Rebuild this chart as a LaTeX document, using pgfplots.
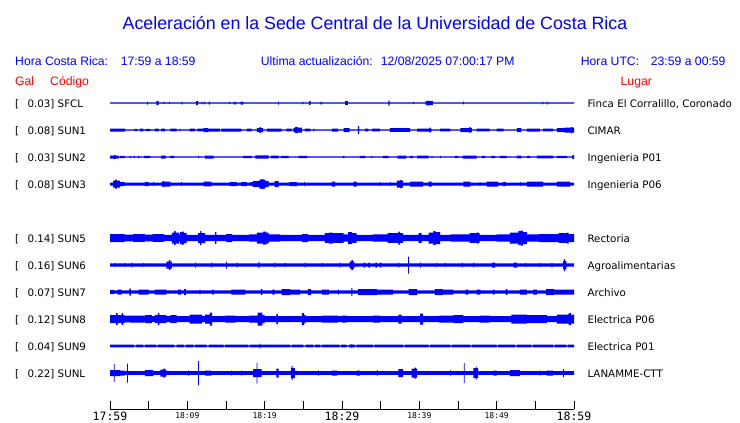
\documentclass[border=0pt]{standalone}
\usepackage{pgfplots}
\pgfplotsset{compat=1.18}
\usepackage{pgfplotstable}
\usepackage{fontspec}
\setmainfont{Liberation Sans}
\newfontfamily\dv{DejaVu Sans}
\newfontfamily\dvm{DejaVu Sans Mono}

% t = minutes after 17:59, h = half amplitude of the trace envelope (px)
\pgfplotstableread{
t h
0 0.6
4.8 1.5
4.9 0.6
6.0 2.0
6.3 0.6
6.9 1.2
7.0 0.6
7.65 1.2
7.75 0.6
9.25 1.5
9.35 0.6
11.15 2.0
11.4 0.6
11.85 1.3
11.95 0.6
12.15 1.3
12.25 0.6
12.8 1.5
12.9 0.6
15.4 1.2
15.5 0.6
16.0 1.5
16.1 0.6
16.25 1.5
16.35 0.6
16.9 1.5
17.2 0.6
21.75 1.5
21.85 0.6
24.9 1.3
25.0 0.6
25.75 1.8
25.95 0.6
27.25 1.5
27.35 0.6
30.4 1.8
30.75 0.6
36.0 2.5
36.15 0.6
39.2 1.2
39.3 0.6
40.8 2.0
41.1 2.5
41.25 2.0
41.75 0.6
45.65 1.3
45.75 0.6
55.9 1.3
56.0 0.6
56.5 1.5
56.6 0.6
60 0.6
}\sfcl

\pgfplotstableread{
t h
0 1.5
1.95 0.7
3.2 1.2
3.5 0.7
3.9 1.3
4.3 0.7
4.6 1.2
5.2 0.7
5.8 1.3
6.3 0.7
6.6 1.3
7.1 0.7
7.8 1.3
8.6 0.7
9.0 1.3
9.1 0.7
10.3 1.3
11.0 0.7
11.3 1.3
12.1 2.0
12.7 1.5
14.2 0.7
14.4 1.5
17.0 0.7
17.7 1.3
18.3 0.7
19.0 2.0
19.35 3.0
19.5 2.0
19.8 0.7
20.3 1.5
22.2 0.7
22.8 1.3
23.5 0.7
23.7 2.0
23.9 3.0
24.3 2.5
24.8 0.7
25.2 1.3
25.9 0.7
26.3 1.3
26.4 0.7
28.7 1.5
29.5 0.7
30.2 2.0
31.0 0.7
32.05 4.0
32.2 0.7
33.0 1.3
33.4 0.7
33.9 1.3
34.9 0.7
36.2 1.8
38.8 0.7
39.7 1.5
41.3 2.5
41.45 1.5
41.6 0.7
42.7 1.3
44.0 0.7
45.3 2.0
46.4 2.7
46.7 2.0
46.8 0.7
47.4 1.3
49.1 0.7
50.0 1.3
50.9 0.7
52.6 2.0
53.2 0.7
53.9 1.5
55.6 0.7
56.0 1.3
57.3 0.7
57.8 2.0
58.8 2.5
59.6 3.0
59.8 2.5
60 2.5
}\sunA

\pgfplotstableread{
t h
0 1.5
0.5 2.0
0.7 1.5
1.1 0.7
1.3 1.2
1.9 0.7
2.6 1.2
2.7 0.7
3.1 1.2
3.2 0.7
3.65 1.2
3.75 0.7
4.4 1.2
5.2 0.7
6.6 1.5
7.2 0.7
7.8 1.2
8.3 0.7
11.4 1.2
11.5 0.7
12.3 1.5
13.4 0.7
17.2 1.2
18.3 0.7
18.8 1.7
20.5 0.7
20.8 1.3
21.8 0.7
22.1 1.2
23.1 0.7
24.4 1.2
25.5 0.7
30.1 1.2
30.3 0.7
32.3 1.2
33.0 0.7
33.8 1.2
33.9 0.7
35.3 1.2
36.0 0.7
37.2 1.5
38.3 0.7
38.8 1.2
39.2 0.7
39.7 1.3
41.2 0.7
41.6 1.2
41.7 0.7
42.7 1.2
42.8 0.7
44.6 1.2
45.0 0.7
45.6 1.5
47.4 0.7
48.1 1.2
48.5 0.7
49.3 1.2
49.8 0.7
50.4 1.2
51.3 0.7
52.6 1.3
53.2 0.7
53.9 1.2
54.3 0.7
55.2 1.3
57.3 0.7
57.8 1.2
59.1 0.7
59.8 2.0
60 2.0
}\sunB

\pgfplotstableread{
t h
0 1.5
0.4 3.5
0.65 4.5
0.9 3.5
1.3 2.0
1.9 1.5
4.5 2.0
5.0 1.5
5.6 2.0
5.7 1.5
6.7 2.5
6.85 3.0
7.0 2.5
7.8 1.5
9.2 2.0
9.3 1.5
12.1 2.3
13.1 1.5
15.5 2.0
16.4 1.5
17.0 2.0
17.7 1.5
18.2 2.0
18.5 3.0
19.3 4.5
19.6 5.0
19.8 4.5
20.1 3.0
20.5 1.5
21.3 3.0
21.8 1.5
23.2 2.0
24.2 1.5
25.1 2.0
25.2 1.5
28.7 2.5
29.1 1.5
31.5 2.5
31.9 1.5
34.9 2.0
35.0 1.5
36.2 2.0
36.3 1.5
37.1 3.5
37.5 4.0
37.7 3.5
37.9 1.5
38.8 2.5
40.5 1.5
41.2 2.5
41.6 1.5
45.7 2.5
46.6 1.5
47.8 2.0
47.9 1.5
48.7 2.5
50.2 1.5
50.8 2.0
51.2 1.5
53.0 2.0
53.1 1.5
53.9 2.5
56.0 1.5
57.8 2.5
59.5 1.5
60 1.5
}\sunC

\pgfplotstableread{
t h
0 4.0
1.9 3.3
3.0 3.8
4.5 3.3
5.5 3.8
7.0 3.2
8.0 5.5
8.3 7.0
8.5 5.5
8.9 3.6
9.05 6.0
9.3 6.5
9.6 5.0
9.9 3.2
11.4 5.0
11.65 7.0
11.8 5.0
12.3 3.2
13.6 6.0
13.75 3.2
15.0 4.0
15.8 3.2
18.0 3.6
19.0 5.5
19.8 6.5
20.2 5.5
20.5 3.6
22.0 3.2
24.8 4.0
25.6 3.2
27.8 4.8
28.3 5.5
28.8 4.8
30.2 3.6
30.8 6.0
31.3 4.8
31.9 3.2
34.0 3.6
35.9 4.8
37.3 6.5
37.5 4.8
37.9 3.2
39.9 5.0
40.3 3.2
41.2 5.5
41.8 7.0
42.1 6.0
42.7 3.2
44.0 3.6
46.5 4.8
47.5 6.0
47.6 4.8
47.8 3.2
50.0 3.6
51.7 5.5
52.8 7.0
53.2 7.5
53.4 6.0
53.9 3.6
55.5 4.0
58.0 4.8
59.1 5.5
59.3 4.0
60 4.0
}\sunE

\pgfplotstableread{
t h
0 1.6
0.6 2.2
0.7 1.6
1.9 2.2
2.0 1.6
2.8 2.5
2.9 1.6
4.3 2.2
4.4 1.6
7.3 3.5
7.6 5.0
7.8 3.5
8.0 1.6
11.0 2.5
11.1 1.6
13.1 2.5
13.2 1.6
15.0 3.5
15.1 1.6
16.4 2.5
16.5 1.6
19.2 3.0
19.3 1.6
21.3 2.5
21.4 1.6
22.6 2.2
22.7 1.6
25.2 2.5
25.3 1.6
27.4 2.2
27.5 1.6
29.7 2.5
29.8 1.6
31.0 3.5
31.2 5.0
31.4 3.5
31.6 1.6
32.8 2.5
33.0 1.6
33.4 2.5
33.6 1.6
34.3 2.5
34.5 1.6
34.9 2.5
35.1 1.6
37.3 2.5
37.4 1.6
38.55 8.5
38.65 1.6
40.1 2.5
40.2 1.6
42.2 2.2
42.3 1.6
43.3 2.2
43.4 1.6
45.5 2.5
45.6 1.6
47.0 2.5
47.1 1.6
49.4 2.5
49.8 1.6
52.2 2.5
52.6 1.6
53.7 2.2
53.8 1.6
55.6 2.2
55.7 1.6
57.1 2.5
57.2 1.6
58.6 4.0
58.7 6.0
58.85 4.0
59.0 1.6
60 1.6
}\sunF

\pgfplotstableread{
t h
0 2.0
0.5 1.6
1.0 2.5
1.5 1.6
2.5 3.5
2.7 1.6
3.7 2.5
5.0 1.6
5.8 2.5
7.3 1.6
8.8 2.5
9.2 1.6
9.6 3.0
9.8 1.6
11.6 2.5
11.7 1.6
13.2 2.5
13.4 1.6
15.7 2.5
17.5 1.6
19.5 3.0
19.7 1.6
21.0 2.5
21.3 1.6
22.2 3.0
23.3 2.5
24.6 1.6
25.6 3.0
26.0 1.6
27.4 2.5
28.3 1.6
29.5 2.5
29.6 1.6
31.2 4.0
31.35 1.6
32.1 3.0
34.5 2.5
36.6 1.6
38.6 3.0
39.7 1.6
42.0 3.0
43.0 2.5
44.4 1.6
46.0 2.5
46.3 1.6
47.4 2.5
47.9 1.6
49.5 2.5
49.7 1.6
51.2 3.0
51.4 1.6
53.0 2.5
53.9 1.6
54.7 2.5
55.2 1.6
56.4 3.0
57.4 2.5
59.5 2.5
60 2.5
}\sunG

\pgfplotstableread{
t h
0 4.0
0.8 6.0
1.0 4.0
1.5 6.0
1.7 4.0
1.9 3.3
2.6 3.5
4.4 3.0
4.5 4.0
5.4 3.0
5.8 4.0
6.2 6.0
6.4 4.0
7.3 3.0
7.8 4.0
8.6 3.0
10.3 4.5
11.9 3.0
12.3 4.5
12.9 6.5
13.2 3.0
14.9 3.5
16.2 3.0
18.0 3.5
19.1 6.5
19.7 4.0
20.0 3.0
21.5 5.0
21.7 3.0
24.8 6.0
25.1 4.0
25.3 3.0
27.4 3.5
29.5 3.0
30.0 3.5
30.6 3.0
34.0 3.5
34.9 3.0
37.3 4.5
37.7 3.0
40.1 5.5
40.5 3.0
42.6 3.5
44.4 4.0
45.7 3.0
47.8 3.5
49.1 3.0
51.9 4.5
53.9 4.0
56.5 3.0
57.8 4.5
59.3 6.0
59.6 4.5
60 4.5
}\sunH

\pgfplotstableread{
t h
0 1.3
3.1 0.6
3.35 1.3
4.3 0.6
4.5 1.3
6.0 0.6
6.2 1.3
8.3 0.6
8.6 1.3
9.6 0.6
9.8 1.3
10.8 0.6
11.0 1.3
12.5 0.6
12.8 1.3
14.7 0.6
14.9 1.3
17.9 0.6
18.1 1.3
19.35 2.5
19.45 1.3
23.3 0.6
23.5 1.3
25.0 0.6
25.3 1.3
26.3 0.6
26.5 1.3
27.2 0.6
27.4 1.3
29.7 0.6
29.9 1.3
30.6 0.6
30.9 1.3
31.2 2.0
31.3 1.3
31.7 0.6
31.9 1.3
34.0 0.6
34.2 1.3
37.9 0.6
38.1 1.3
41.2 0.6
41.4 1.3
44.0 0.6
44.2 1.3
46.6 0.6
46.8 1.3
50.0 0.6
50.2 1.3
52.4 0.6
52.6 1.3
54.5 0.6
54.7 1.3
57.3 0.6
57.5 1.3
59.0 0.6
59.2 1.3
60 1.3
}\sunI

\pgfplotstableread{
t h
0 3.0
0.5 8.8
0.6 3.0
1.3 2.5
1.9 1.8
2.2 9.5
2.3 1.8
4.5 3.0
5.6 1.8
6.5 3.5
6.9 4.5
7.1 3.5
7.3 1.8
10.1 2.5
10.2 1.8
11.4 12.0
11.5 1.8
12.3 2.5
13.1 1.8
15.7 2.5
15.8 1.8
17.0 2.5
17.1 1.8
18.5 4.0
18.95 10.5
19.05 4.0
19.6 1.8
21.5 4.5
21.8 1.8
23.4 5.0
23.5 7.0
23.6 5.0
23.9 1.8
26.9 2.5
27.0 1.8
28.7 2.5
29.4 1.8
31.9 2.5
32.3 1.8
34.5 3.0
34.6 1.8
37.3 4.0
37.9 1.8
39.0 4.5
39.4 5.5
39.6 4.5
39.7 1.8
44.0 3.0
44.1 1.8
45.75 10.0
45.85 1.8
47.0 5.0
47.3 6.5
47.4 5.0
47.6 1.8
49.6 2.5
50.0 1.8
51.7 3.0
53.0 1.8
55.6 2.5
55.7 1.8
56.5 2.5
57.3 1.8
58.55 4.0
58.7 1.8
60 1.8
}\sunL

% upper and lower halves of each trace envelope, each closed to the trace's centre line
\newcommand{\seis}[2]{%
  \addplot[fill=blue, draw=none, const plot, forget plot] table[x=t, y expr={#2+\thisrow{h}}] {#1} -- (axis cs:60,#2) -- (axis cs:0,#2) -- cycle;
  \addplot[fill=blue, draw=none, const plot, forget plot] table[x=t, y expr={#2-\thisrow{h}}] {#1} -- (axis cs:60,#2) -- (axis cs:0,#2) -- cycle;
}

\begin{document}
\begin{tikzpicture}
\path[use as bounding box] (0pt,0pt) rectangle (740pt,-423pt);
\begin{axis}[
  at={(110pt,-409pt)}, anchor=south west,
  scale only axis, width=464pt, height=319pt,
  xmin=0, xmax=60, ymin=-409, ymax=-90,
  axis x line*=bottom, axis y line=none,
  axis line style={black, line width=0.8pt},
  xtick={0,5,...,60},
  xticklabels={{\fontsize{11.5}{12}\dvm 17:59},,{\fontsize{8}{9}\dvm 18:09},,{\fontsize{8}{9}\dvm 18:19},,{\fontsize{11.5}{12}\dvm 18:29},,{\fontsize{8}{9}\dvm 18:39},,{\fontsize{8}{9}\dvm 18:49},,{\fontsize{11.5}{12}\dvm 18:59}},
  tick align=inside, major tick length=8pt,
  tick style={black, line width=0.8pt},
  xticklabel style={anchor=north, inner sep=0pt},
  xticklabel shift=3pt,
]
\seis{\sfcl}{-103}
\seis{\sunA}{-130}
\seis{\sunB}{-157}
\seis{\sunC}{-184}
\seis{\sunE}{-238}
\seis{\sunF}{-265}
\seis{\sunG}{-292}
\seis{\sunH}{-319}
\seis{\sunI}{-346}
\seis{\sunL}{-373}
\end{axis}

% header
\node[anchor=base, inner sep=0pt, text=blue, font=\fontsize{17.8}{20}\selectfont] at (375pt,-29pt) {Aceleración en la Sede Central de la Universidad de Costa Rica};
\begin{scope}[every node/.style={anchor=base west, inner sep=0pt, font=\fontsize{12.2}{14}\selectfont}]
\node[text=blue] at (15pt,-65pt) {Hora Costa Rica:};
\node[text=blue] at (120.7pt,-65pt) {17:59 a 18:59};
\node[text=blue] at (260.7pt,-65pt) {Ultima actualización:};
\node[text=blue] at (380.7pt,-65pt) {12/08/2025 07:00:17 PM};
\node[text=blue] at (580.7pt,-65pt) {Hora UTC:};
\node[text=blue] at (650.7pt,-65pt) {23:59 a 00:59};
\node[text=red] at (15pt,-85pt) {Gal};
\node[text=red] at (50pt,-85pt) {Código};
\node[text=red] at (620.5pt,-85pt) {Lugar};
\end{scope}

% station labels
\begin{scope}[every node/.style={anchor=base west, inner sep=0pt, font=\dv\fontsize{10.3}{12}\selectfont}]
\foreach \c/\v/\s/\p in {103/0.03/SFCL/{Finca El Corralillo, Coronado},130/0.08/SUN1/CIMAR,157/0.03/SUN2/Ingenieria P01,184/0.08/SUN3/Ingenieria P06,238/0.14/SUN5/Rectoria,265/0.16/SUN6/Agroalimentarias,292/0.07/SUN7/Archivo,319/0.12/SUN8/Electrica P06,346/0.04/SUN9/Electrica P01,373/0.22/SUNL/LANAMME-CTT}{
  \node at (15pt,-\c pt-4.2pt) {[};
  \node at (27.3pt,-\c pt-4.2pt) {\v] \s};
  \node at (587.3pt,-\c pt-4.2pt) {\p};
}
\end{scope}
\end{tikzpicture}
\end{document}
